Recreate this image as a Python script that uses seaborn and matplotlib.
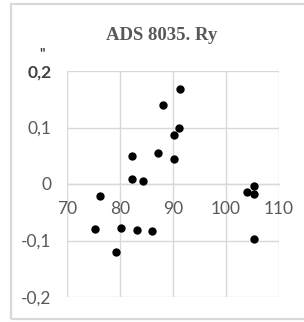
import matplotlib
matplotlib.use("Agg")
import matplotlib.pyplot as plt
from matplotlib.patches import Rectangle
import seaborn as sns
import pandas as pd

title = "ADS 8035. Ry"
x_vals = [91.3, 88.1, 91.1, 90.2, 82.2, 87.2, 90.2, 82.2, 84.4, 76.2,
          104.0, 105.3, 105.3, 75.2, 80.1, 83.2, 86.1, 79.2, 105.3]
y_vals = [0.169, 0.139, 0.100, 0.087, 0.049, 0.054, 0.045, 0.009, 0.006, -0.021,
          -0.015, -0.004, -0.018, -0.080, -0.077, -0.082, -0.084, -0.120, -0.097]
x_ticks = [70, 80, 90, 100, 110]
y_ticks = [-0.2, -0.1, 0.0, 0.1, 0.2]
y_tick_labels = ["-0,2", "-0,1", "0", "0,1", "0,2"]
unit_label = '"'

df = pd.DataFrame({"x": x_vals, "y": y_vals})

sns.set_theme(style="white")
plt.rcParams['font.family'] = ['Lato', 'DejaVu Sans']

W, H = 304, 322
fig = plt.figure(figsize=(W / 100, H / 100), dpi=100)
fig.patch.set_facecolor("white")

# outer chart border
fig.patches.append(Rectangle((11 / W, 3 / H), (W + 5 - 11) / W, (319 - 4) / H,
                             transform=fig.transFigure, fill=False,
                             edgecolor="#d9d9d9", linewidth=1.6, zorder=0))

ax = fig.add_axes([67 / W, 1 - 297 / H, (279 - 67) / W, (297 - 71) / H])
sns.scatterplot(data=df, x="x", y="y", ax=ax, color="black", s=36,
                edgecolor="black", linewidth=0, zorder=3)

ax.set_xlim(70, 110)
ax.set_ylim(-0.2, 0.2)
ax.set_xticks(x_ticks)
ax.set_yticks(y_ticks)
ax.set_yticklabels(y_tick_labels)
ax.set_xlabel("")
ax.set_ylabel("")
ax.grid(True, color="#d9d9d9", linewidth=1.0)
ax.set_axisbelow(True)
for s in ["top", "right", "left"]:
    ax.spines[s].set_visible(False)
ax.spines["bottom"].set_position(("data", 0))
ax.spines["bottom"].set_color("#d9d9d9")
ax.spines["bottom"].set_linewidth(1.0)
ax.tick_params(axis="x", length=0, pad=12, labelsize=12.5, labelcolor="#595959")
ax.tick_params(axis="y", length=0, pad=11, labelsize=12.5, labelcolor="#595959")
lbls = ax.get_yticklabels()
lbls[-1].set_fontweight("bold")
lbls[-1].set_color("#404040")

fig.text(42 / W, 1 - 54 / H, unit_label, ha="center", va="center",
         fontsize=10, color="#404040", fontweight="bold")

fig.text(162 / W, 1 - 35 / H, title, ha="center", va="center",
         fontsize=13.5, fontweight="bold", color="#595959",
         family=["Liberation Serif", "DejaVu Serif"])

fig.savefig("out.png", dpi=100, facecolor="white")
